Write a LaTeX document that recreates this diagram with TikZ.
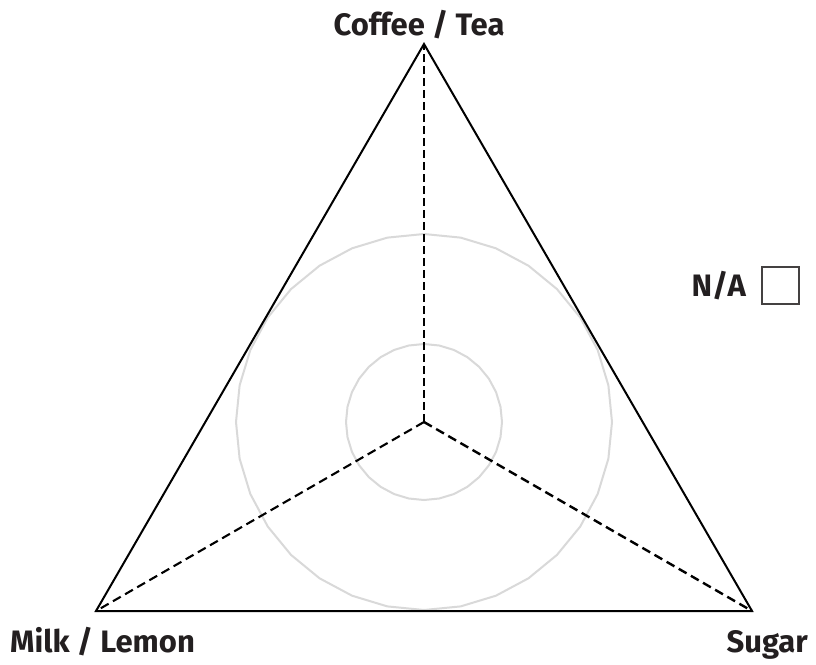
\documentclass[tikz,border=0pt]{standalone}
\usepackage{fontspec}
\setmainfont{Fira Sans}
\definecolor{ink}{HTML}{231F20}
\definecolor{ring}{HTML}{D9D9D9}
\tikzset{
  side/.style={draw=black, line width=2pt, line join=miter},
  spoke/.style={draw=black, line width=2.6pt, dash pattern=on 8pt off 4pt},
  guide/.style={draw=ring, line width=2pt},
  axislabel/.style={font=\bfseries\fontsize{31}{34}\selectfont, text=ink, inner sep=0pt},
  keybox/.style={draw=ink!85, line width=1.4pt, minimum width=37pt, minimum height=37pt, inner sep=0pt}
}
\begin{document}
\begin{tikzpicture}[x=1pt, y=-1pt]
\useasboundingbox (0,0) rectangle (816,664);
\fill[white] (0,0) rectangle (816,664);

% corners and centre of the triangle
\coordinate (top) at (424,44);
\coordinate (left) at (96,611);
\coordinate (right) at (752,611);
\coordinate (mid) at (424,422);

% guide rings, drawn as 32-gons
\draw[guide] plot[samples=33, domain=0:360, variable=\t] ({424+188*cos(\t)}, {422+188*sin(\t)}) -- cycle;
\draw[guide] plot[samples=33, domain=0:360, variable=\t] ({424+78*cos(\t)}, {422+78*sin(\t)}) -- cycle;

% spokes from the centre to each corner
\draw[spoke] (mid) -- (top);
\draw[spoke, line width=2.1pt, dash pattern=on 9pt off 5pt] (mid) -- (left);
\draw[spoke, line width=2.4pt, dash pattern=on 9pt off 5pt] (mid) -- (right);

% outline
\draw[side] (top) -- (right) -- (left) -- cycle;

% corner labels
\node[axislabel, anchor=base] (coffee) at (419,35) {Coffee / Tea};
\node[axislabel, anchor=base west] (milk) at (10,652) {Milk / Lemon};
\node[axislabel, anchor=base east] (sugar) at (808,652) {Sugar};

% key
\node[keybox] (nabox) at (780.5,285.5) {};
\node[axislabel, anchor=base east] (na) at (746,296) {N/A};
\end{tikzpicture}
\end{document}
